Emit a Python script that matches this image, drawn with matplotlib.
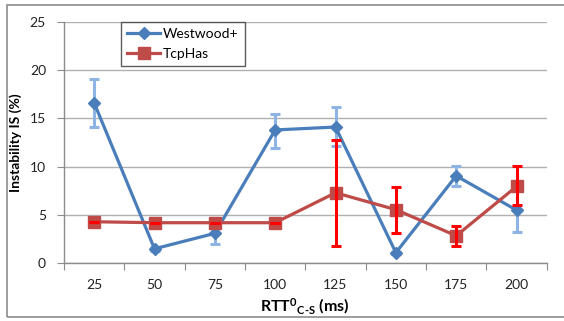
import matplotlib
matplotlib.use("Agg")
import matplotlib.pyplot as plt
from matplotlib.patches import Rectangle
import numpy as np

categories = ["25", "50", "75", "100", "125", "150", "175", "200"]
westwood = [16.6, 1.5, 3.1, 13.8, 14.1, 1.1, 9.05, 5.5]
westwood_err_low = [2.5, 0.2, 1.1, 1.9, 2.0, 0.1, 1.05, 2.3]
westwood_err_high = [2.5, 0.2, 1.1, 1.7, 2.05, 0.1, 1.0, 2.3]
tcphas = [4.3, 4.2, 4.2, 4.2, 7.3, 5.55, 2.85, 7.95]
tcphas_err_low = [0.0, 0.0, 0.0, 0.0, 5.55, 2.45, 1.1, 1.95]
tcphas_err_high = [0.0, 0.0, 0.0, 0.0, 5.5, 2.35, 1.05, 2.15]
yticks = [0, 5, 10, 15, 20, 25]

plt.rcParams['font.family'] = ['Lato', 'DejaVu Sans']
plt.rcParams['mathtext.fontset'] = 'custom'
plt.rcParams['mathtext.rm'] = 'Lato:bold'
plt.rcParams['mathtext.bf'] = 'Lato:bold'
plt.rcParams['mathtext.it'] = 'Lato:bold'

W, H = 564, 321
fig = plt.figure(figsize=(W/100, H/100), dpi=100)
fig.patch.set_facecolor('white')

# outer frame
fig.patches.append(Rectangle((7/W, 1-317/H), 1.05, (317-5)/H, transform=fig.transFigure,
                             fill=False, edgecolor='#8c8c8c', linewidth=1.2, zorder=0))

ax = fig.add_axes([64/W, 1-263.3/H, (546.7-64)/W, (263.3-21.7)/H])
x = np.arange(len(categories))

blue = '#4A7EBB'
red = '#BE4B48'

# error bars
ax.errorbar(x, westwood, yerr=[westwood_err_low, westwood_err_high], fmt='none',
            ecolor='#8DB4E2', elinewidth=2.2, capsize=3.5, capthick=2.2, zorder=3)
ax.plot(x, westwood, color=blue, lw=2.3, marker='D', markersize=6.5,
        markerfacecolor=blue, markeredgecolor=blue, zorder=4, label='Westwood+')
ax.plot(x, tcphas, color=red, lw=2.3, marker='s', markersize=8,
        markerfacecolor=red, markeredgecolor=red, zorder=5, label='TcpHas')
ax.errorbar(x, tcphas, yerr=[tcphas_err_low, tcphas_err_high], fmt='none',
            ecolor='#FF0000', elinewidth=2.2, capsize=3.5, capthick=2.2, zorder=6)

ax.set_xlim(-0.5, len(categories) - 0.5)
ax.set_ylim(0, 25)
ax.set_yticks(yticks)
ax.set_yticklabels([str(v) for v in yticks], fontsize=10, color='#222222')
ax.yaxis.grid(True, color='#b0b0b0', lw=1)
ax.set_axisbelow(True)

ax.set_xticks(np.arange(-0.5, len(categories), 1.0))
ax.set_xticklabels([])
ax.set_xticks(x, minor=True)
ax.set_xticklabels(categories, minor=True, fontsize=10, color='#222222')
ax.tick_params(axis='x', which='major', length=5, color='#8c8c8c', direction='out')
ax.tick_params(axis='x', which='minor', length=0, pad=11)
ax.tick_params(axis='y', length=5, color='#8c8c8c', pad=8)

for s in ['top', 'right']:
    ax.spines[s].set_visible(False)
for s in ['left', 'bottom']:
    ax.spines[s].set_color('#8c8c8c')
    ax.spines[s].set_linewidth(1)

ax.set_ylabel('Instability IS (%)', fontsize=10, fontweight='bold')
ax.yaxis.set_label_coords((22-64)/(546.7-64), 0.5)

fig.text(305/W, 1-306/H, r'RTT$^{0}$$_{C\text{-}S}$ (ms)', fontsize=11.5, fontweight='bold',
         ha='center', va='center')

leg = ax.legend(loc='upper left', bbox_to_anchor=((120.7-64)/(546.7-64), 1.0),
                fontsize=10, frameon=True, fancybox=False, borderpad=0.45,
                handlelength=2.4, handletextpad=0.2, labelspacing=0.55, borderaxespad=0)
leg.get_frame().set_edgecolor('#333333')
leg.get_frame().set_linewidth(1)

fig.savefig('out.png', dpi=100, facecolor='white')
